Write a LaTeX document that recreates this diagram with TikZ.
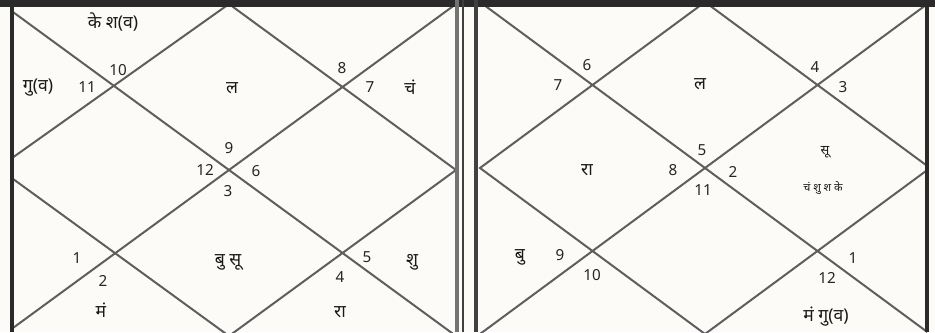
\documentclass[tikz,border=0pt]{standalone}
\usepackage{fontspec}
\setmainfont{Noto Sans}
\newfontfamily\deva[Script=Devanagari]{Noto Sans}
\definecolor{paper}{HTML}{FCFBF8}
\definecolor{ink}{HTML}{5E5E5E}
\definecolor{frame}{HTML}{2A2A2A}
\begin{document}
\begin{tikzpicture}[x=0.03cm,y=-0.03cm,
  chartline/.style={draw=ink, line width=1.7pt},
  num/.style={font=\fontsize{13}{14}\selectfont, text=black!85, inner sep=0pt},
  pl/.style={font=\deva\fontsize{15}{16}\selectfont, text=black!90, inner sep=0pt},
  mid/.style={font=\deva\fontsize{11}{12}\selectfont, text=black!90, inner sep=0pt},
  tiny/.style={font=\deva\fontsize{9.5}{10}\selectfont, text=black!90, inner sep=0pt}]
\useasboundingbox (0,0) rectangle (935,332);
\fill[paper] (0,0) rectangle (935,332);
% ---------- left chart ----------
\coordinate (LA) at (2,4);   \coordinate (LB) at (456,4);
\coordinate (LC) at (456,336); \coordinate (LD) at (2,336);
\coordinate (LT) at (229,4); \coordinate (LR) at (456,170);
\coordinate (LM) at (229,336); \coordinate (LL) at (-2,168);
\begin{scope}
  \clip (12,7) rectangle (457,332);
  \draw[chartline] (LA) -- (LC);
  \draw[chartline] (LB) -- (LD);
  \draw[chartline] (LT) -- (LL) -- (LM) -- (LR) -- cycle;
\end{scope}
% ---------- right chart ----------
\coordinate (RA) at (480,2);   \coordinate (RB) at (930,2);
\coordinate (RC) at (930,334); \coordinate (RD) at (480,334);
\coordinate (RT) at (705,2);   \coordinate (RR) at (930,168);
\coordinate (RM) at (705,334); \coordinate (RL) at (480,168);
\begin{scope}
  \clip (476,7) rectangle (927,332);
  \draw[chartline] (RA) -- (RC);
  \draw[chartline] (RB) -- (RD);
  \draw[chartline] (RT) -- (RL) -- (RM) -- (RR) -- cycle;
\end{scope}
% ---------- frames ----------
\fill[frame] (0,0) rectangle (935,7);
\draw[frame, line width=2.6pt] (12,0) -- (12,332);
\draw[black!55, line width=3.2pt] (457,0) -- (457,332);
\draw[black!75, line width=1.1pt] (463,0) -- (463,332);
\draw[black!75, line width=3.2pt] (476,0) -- (476,332);
\draw[frame, line width=3.6pt] (927,0) -- (927,332);
% ---------- left chart texts ----------
\node[pl]  (a1) at (113,22) {के श(व)};
\node[pl]  (a2) at (38,88) {गु(व)};
\node[num] (a3) at (87,87) {11};
\node[num] (a4) at (118,70) {10};
\node[pl]  (a5) at (232,88) {ल};
\node[num] (a6) at (342,68) {8};
\node[num] (a7) at (370,87) {7};
\node[pl]  (a8) at (410,87) {चं};
\node[num] (a9) at (229,148) {9};
\node[num] (a10) at (205,170) {12};
\node[num] (a11) at (256,171) {6};
\node[num] (a12) at (228,191) {3};
\node[num] (a13) at (77,258) {1};
\node[num] (a14) at (103,281) {2};
\node[pl]  (a15) at (101,310) {मं};
\node[pl]  (a16) at (228,262) {बु सू};
\node[num] (a17) at (340,277) {4};
\node[num] (a18) at (367,257) {5};
\node[pl]  (a19) at (412,262) {शु};
\node[pl]  (a20) at (340,312) {रा};
% ---------- right chart texts ----------
\node[num] (b1) at (587,65) {6};
\node[num] (b2) at (558,85) {7};
\node[pl]  (b3) at (700,84) {ल};
\node[num] (b4) at (815,67) {4};
\node[num] (b5) at (843,87) {3};
\node[pl]  (b6) at (587,170) {रा};
\node[num] (b7) at (673,170) {8};
\node[num] (b8) at (702,150) {5};
\node[num] (b9) at (733,172) {2};
\node[num] (b10) at (703,190) {11};
\node[mid] (b11) at (825,152) {सू};
\node[tiny] (b12) at (823,188) {चं शु श के};
\node[pl]  (b13) at (520,257) {बु};
\node[num] (b14) at (560,255) {9};
\node[num] (b15) at (592,275) {10};
\node[num] (b16) at (853,258) {1};
\node[num] (b17) at (827,278) {12};
\node[pl]  (b18) at (826,317) {मं गु(व)};
\end{tikzpicture}
\end{document}
